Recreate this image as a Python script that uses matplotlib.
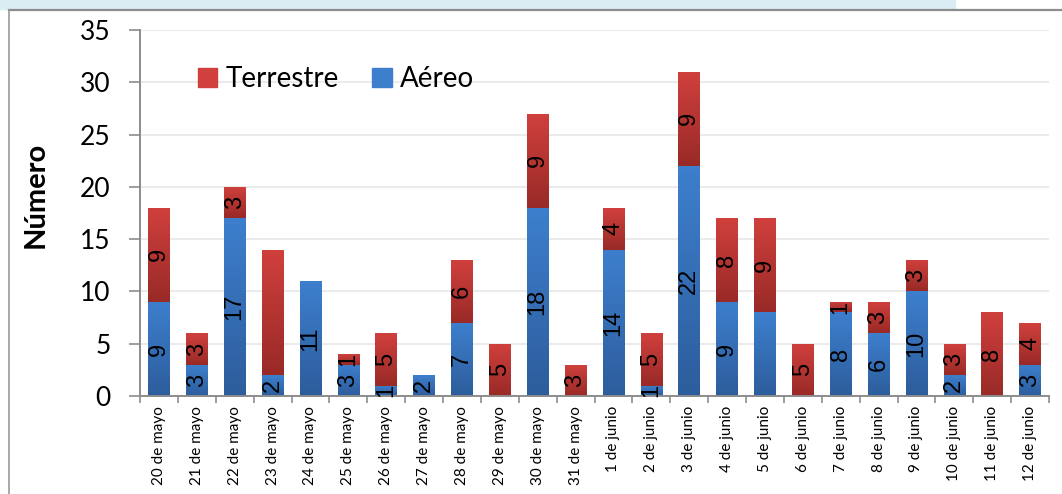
import matplotlib
matplotlib.use("Agg")
import matplotlib.pyplot as plt
import numpy as np
from matplotlib.colors import LinearSegmentedColormap
from matplotlib.patches import Rectangle
from matplotlib.lines import Line2D

# data
fechas = [
    "20 de mayo", "21 de mayo", "22 de mayo", "23 de mayo", "24 de mayo",
    "25 de mayo", "26 de mayo", "27 de mayo", "28 de mayo", "29 de mayo",
    "30 de mayo", "31 de mayo", "1 de junio", "2 de junio", "3 de junio",
    "4 de junio", "5 de junio", "6 de junio", "7 de junio", "8 de junio",
    "9 de junio", "10 de junio", "11 de junio", "12 de junio",
]
aereo = [9, 3, 17, 2, 11, 3, 1, 2, 7, 0, 18, 0, 14, 1, 22, 9, 8, 0, 8, 6, 10, 2, 0, 3]
terrestre = [9, 3, 3, 12, 0, 1, 5, 0, 6, 5, 9, 3, 4, 5, 9, 8, 9, 5, 1, 3, 3, 3, 8, 4]
# the original leaves a couple of segments unlabelled (23 mayo red, 5 junio blue)
aereo_txt = ["9", "3", "17", "2", "11", "3", "1", "2", "7", "", "18", "", "14", "1",
             "22", "9", "", "", "8", "6", "10", "2", "", "3"]
terrestre_txt = ["9", "3", "3", "", "", "1", "5", "", "6", "5", "9", "3", "4", "5",
                 "9", "8", "9", "5", "1", "3", "3", "3", "8", "4"]

RED_TOP, RED_BOT = "#D0403D", "#992A27"
BLUE_TOP, BLUE_BOT = "#3D7FCD", "#2D5D9C"
GRAY = "#8C8C8C"

plt.rcParams["font.family"] = ["Lato", "DejaVu Sans"]

fig = plt.figure(figsize=(10.62, 4.94), dpi=100)

# page decoration: light blue strip + grey frame lines
fig.patches.append(Rectangle((0, 1 - 9 / 494), 955 / 1062, 9 / 494,
                             transform=fig.transFigure, color="#DAEDF3", zorder=0))
fig.add_artist(Line2D([9 / 1062, 1], [1 - 10.5 / 494] * 2, transform=fig.transFigure,
                      color=GRAY, lw=1.6))
fig.add_artist(Line2D([9 / 1062] * 2, [0, 1 - 10.5 / 494], transform=fig.transFigure,
                      color="#9A9A9A", lw=1.2))

ax = fig.add_axes([140 / 1062, 1 - 396 / 494, 909 / 1062, 366 / 494])

x = np.arange(len(fechas))
w = 0.57
b1 = ax.bar(x, aereo, w, color=BLUE_TOP, label="Aéreo", zorder=2)
b2 = ax.bar(x, terrestre, w, bottom=aereo, color=RED_TOP, label="Terrestre", zorder=2)


def shade(bars, top, bot):
    cmap = LinearSegmentedColormap.from_list("g", [bot, top])
    grad = np.linspace(0, 1, 64).reshape(-1, 1)
    for p in bars:
        if p.get_height() <= 0:
            continue
        x0, y0 = p.get_x(), p.get_y()
        im = ax.imshow(grad, cmap=cmap, origin="lower", aspect="auto", zorder=2.1,
                       extent=[x0, x0 + p.get_width(), y0, y0 + p.get_height()])
        im.set_clip_path(p)


shade(b1, BLUE_TOP, BLUE_BOT)
shade(b2, RED_TOP, RED_BOT)

lab_kw = dict(label_type="center", rotation=90, fontsize=17,
              family=["Liberation Sans", "DejaVu Sans"], color="black", zorder=3)
ax.bar_label(b1, labels=aereo_txt, **lab_kw)
ax.bar_label(b2, labels=terrestre_txt, **lab_kw)

ax.set_xlim(-0.5, len(fechas) - 0.5)
ax.set_ylim(0, 35)
ax.set_yticks(range(0, 36, 5))
ax.tick_params(axis="y", labelsize=19, length=8, width=1.2, color=GRAY, pad=13)

ax.set_xticks(x)
ax.set_xticklabels(fechas, rotation=90, fontsize=11)
ax.tick_params(axis="x", length=0, pad=7)
ax.set_xticks(np.arange(-0.5, len(fechas)), minor=True)
ax.tick_params(axis="x", which="minor", length=5, width=1.2, color=GRAY)

ax.grid(axis="y", color="#EBEBEB", lw=1.5, zorder=0)
ax.set_axisbelow(True)
for s in ("top", "right"):
    ax.spines[s].set_visible(False)
for s in ("left", "bottom"):
    ax.spines[s].set_color(GRAY)
    ax.spines[s].set_linewidth(1.4)

ax.set_ylabel("Número", fontsize=21, fontweight="bold")
ax.yaxis.set_label_coords(-0.101, 0.55)

handles = [Rectangle((0, 0), 1, 1, color=RED_TOP), Rectangle((0, 0), 1, 1, color=BLUE_TOP)]
ax.legend(handles, ["Terrestre", "Aéreo"], ncol=2, frameon=False, fontsize=20,
          loc="upper left", bbox_to_anchor=(0.036, 0.97), handlelength=0.7,
          handleheight=0.7, handletextpad=0.3, columnspacing=1.2)

fig.savefig("out.png", dpi=100)
